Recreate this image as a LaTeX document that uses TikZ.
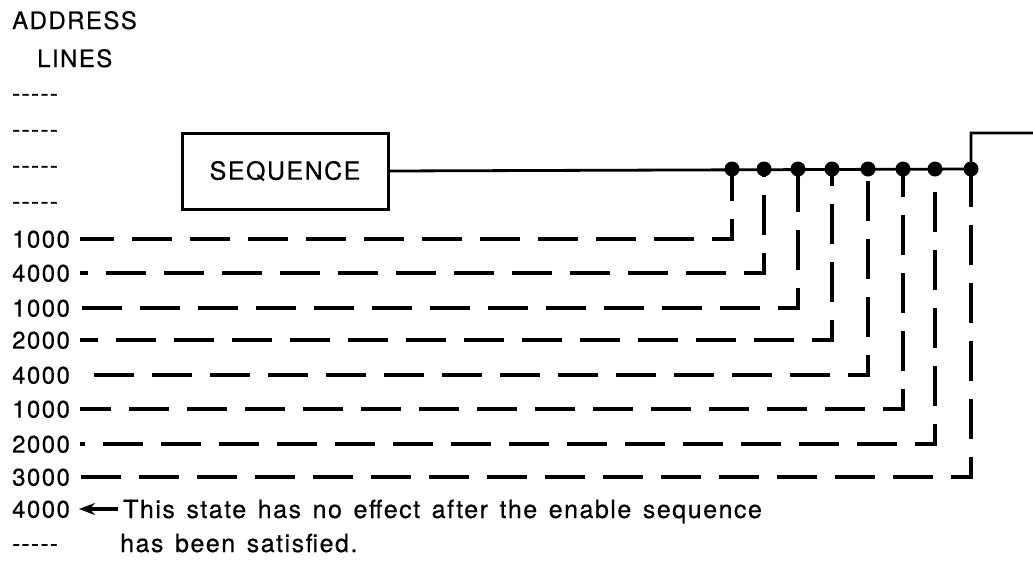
\documentclass[tikz,border=0pt]{standalone}
\usepackage{fontspec}
\setmainfont{TeX Gyre Heros}[LetterSpace=6, FakeBold=0.5]
\newfontfamily\notefont{TeX Gyre Heros}[LetterSpace=6, WordSpace=1.37, FakeBold=0.5]
\usetikzlibrary{arrows.meta}
\begin{document}
\begin{tikzpicture}[x=1pt,y=-1pt,
  every node/.style={inner sep=0pt, font=\fontsize{24}{28}\selectfont},
  lbl/.style={anchor=base west},
  note/.style={anchor=base west, font=\notefont\fontsize{25}{29}\selectfont},
  dashline/.style={line width=3.2pt, dash pattern=on 40pt off 18pt},
  mainline/.style={line width=2.8pt},
  dotfill/.style={fill=black}]
\useasboundingbox (0,0) rectangle (1033,560);
% header
\node[lbl] (hA) at (12,29) {ADDRESS};
\node[lbl] (hB) at (37,67) {LINES};
% unused lines
\node[lbl] (u1) at (12,101.5) {-{}-{}-{}-{}-};
\node[lbl] (u2) at (12,137.5) {-{}-{}-{}-{}-};
\node[lbl] (u3) at (12,173.5) {-{}-{}-{}-{}-};
\node[lbl] (u4) at (12,209.5) {-{}-{}-{}-{}-};
% sequence box
\node[draw, line width=3pt, minimum width=206pt, minimum height=76pt,
      font=\fontsize{25}{29}\selectfont] (seq) at (285,171) {SEQUENCE};
% junctions
\foreach \i/\x in {1/732,2/764,3/798,4/832,5/868,6/903,7/935,8/971}
  \coordinate (d\i) at (\x,169);
\coordinate (out) at (1033,133);
\draw[mainline] (seq.east) -- (d8) |- (out);
% rows
\foreach \i/\x/\y/\t in {1/732/239/1000,2/764/273/4000,3/798/308/1000,4/832/340/2000,5/868/375/4000,6/903/409/1000,7/935/444/2000,8/971/477/3000}{
  \node[lbl] (l\i) at (12,\y+8.6) {\t};
  \coordinate (s\i) at (80,\y);
  \coordinate (c\i) at (\x,\y);
  \pgfmathsetmacro\ph{mod(20-(\x-80)+5800,58)}
  \draw[dashline, dash phase=\ph pt] (s\i) -- (c\i) -- (d\i);
}
\foreach \i in {1,...,8}
  \fill[dotfill] (d\i) circle (7.5);
% last lines
\node[lbl] (l9) at (12,517.6) {4000};
\node[note] (note1) at (123,518) {This state has no effect after the enable sequence};
\node[lbl] (u5) at (12,551.6) {-{}-{}-{}-{}-};
\node[note] (note2) at (120,552) {has been satisfied.};
\coordinate (a1) at (118,509);
\coordinate (a2) at (79,509);
\draw[line width=3.2pt, -{Stealth[length=16pt,width=12pt]}] (a1) -- (a2);
\end{tikzpicture}
\end{document}
